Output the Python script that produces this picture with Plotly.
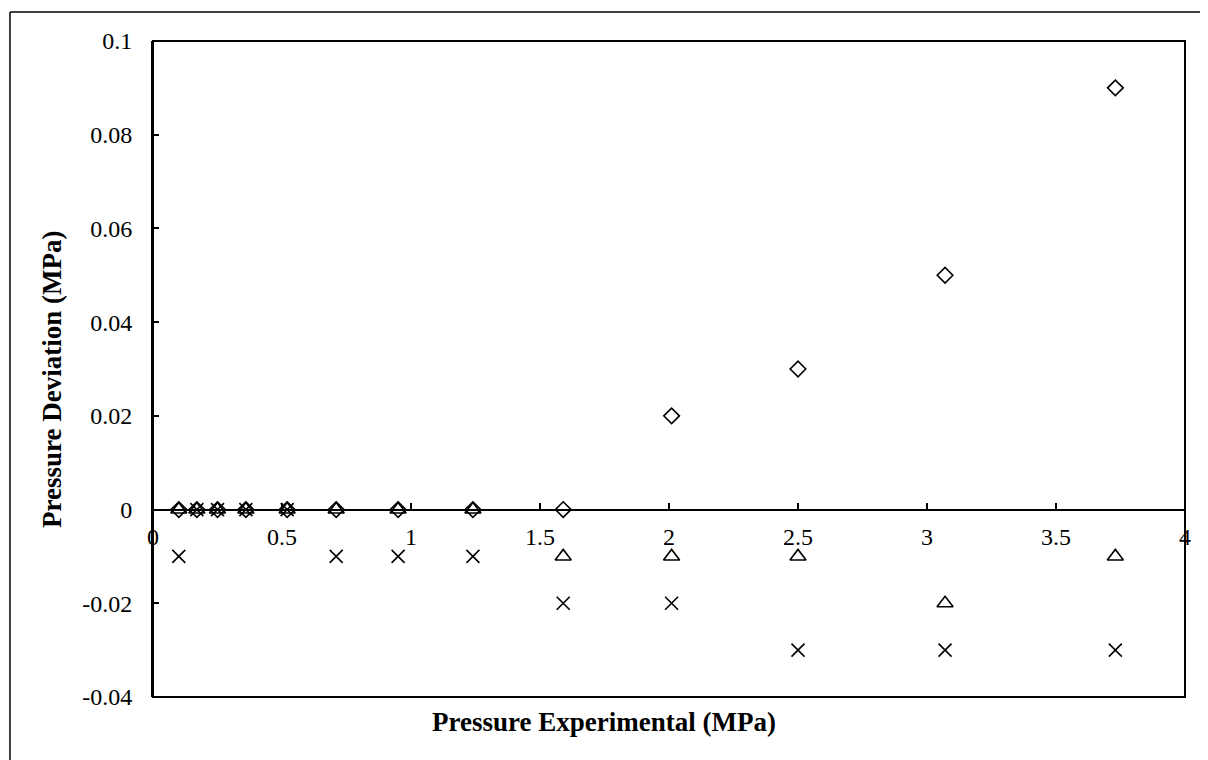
import plotly.graph_objects as go

pressure_exp = [0.10, 0.17, 0.25, 0.36, 0.52, 0.71, 0.95, 1.24, 1.59, 2.01, 2.50, 3.07, 3.73]
dev_diamond = [0, 0, 0, 0, 0, 0, 0, 0, 0, 0.02, 0.03, 0.05, 0.09]
dev_triangle = [0, 0, 0, 0, 0, 0, 0, 0, -0.01, -0.01, -0.01, -0.02, -0.01]
dev_cross = [-0.01, 0, 0, 0, 0, -0.01, -0.01, -0.01, -0.02, -0.02, -0.03, -0.03, -0.03]

y_tickvals = [0.1, 0.08, 0.06, 0.04, 0.02, 0, -0.02, -0.04]
y_ticktext = ["0.1", "0.08", "0.06", "0.04", "0.02", "0", "-0.02", "-0.04"]
x_tickvals = [0, 0.5, 1, 1.5, 2, 2.5, 3, 3.5, 4]
x_ticktext = ["0", "0.5", "1", "1.5", "2", "2.5", "3", "3.5", "4"]

FONT = "Liberation Serif"

fig = go.Figure()
fig.add_trace(go.Scatter(x=pressure_exp, y=dev_cross, mode="markers",
                         marker=dict(symbol="x-thin-open", size=13, color="black",
                                     line=dict(color="black", width=1.6)), showlegend=False))
fig.add_trace(go.Scatter(x=pressure_exp, y=dev_triangle, mode="markers",
                         marker=dict(symbol="triangle-up-open", size=14, color="black",
                                     line=dict(color="black", width=1.6)), showlegend=False))
fig.add_trace(go.Scatter(x=pressure_exp, y=dev_diamond, mode="markers",
                         marker=dict(symbol="diamond-open", size=12, color="black",
                                     line=dict(color="black", width=1.6)), showlegend=False))

y0_pos = (0 - (-0.04)) / (0.1 - (-0.04))

fig.update_layout(
    width=1208, height=760,
    margin=dict(l=145, r=31, t=33, b=71),
    paper_bgcolor="white", plot_bgcolor="white",
    font=dict(family=FONT, size=24, color="black"),
    xaxis=dict(range=[0, 4], tickvals=x_tickvals, ticktext=x_ticktext,
               anchor="free", position=y0_pos, showline=True, linecolor="black", linewidth=2,
               ticks="inside", ticklen=6, tickwidth=1.5, tickcolor="black",
               showgrid=False, zeroline=False, ticklabelstandoff=6,
               tickfont=dict(family=FONT, size=24)),
    yaxis=dict(range=[-0.04, 0.1], tickvals=y_tickvals, ticktext=y_ticktext,
               showline=True, linecolor="black", linewidth=2,
               ticks="inside", ticklen=6, tickwidth=1.5, tickcolor="black",
               showgrid=False, zeroline=False, ticklabelstandoff=14,
               tickfont=dict(family=FONT, size=24)),
    shapes=[
        dict(type="rect", xref="paper", yref="paper", x0=0, x1=1, y0=0, y1=1,
             line=dict(color="black", width=2)),
        dict(type="line", xref="paper", yref="paper", x0=-0.1386, x1=1.1, y0=1.0442, y1=1.0442,
             line=dict(color="black", width=1.5)),
        dict(type="line", xref="paper", yref="paper", x0=-0.1386, x1=-0.1386, y0=-0.2, y1=1.0442,
             line=dict(color="black", width=1.5)),
    ],
    annotations=[
        dict(text="<b>Pressure Experimental (MPa)</b>", xref="paper", yref="paper",
             x=(604 - 153) / 1032, y=(697 - 722) / 656, showarrow=False,
             xanchor="center", yanchor="middle", font=dict(family=FONT, size=27)),
        dict(text="<b>Pressure Deviation (MPa)</b>", xref="paper", yref="paper",
             x=(52 - 153) / 1032, y=(697 - 380) / 656, showarrow=False, textangle=-90,
             xanchor="center", yanchor="middle", font=dict(family=FONT, size=27)),
    ],
)

fig.write_html("out.html")
